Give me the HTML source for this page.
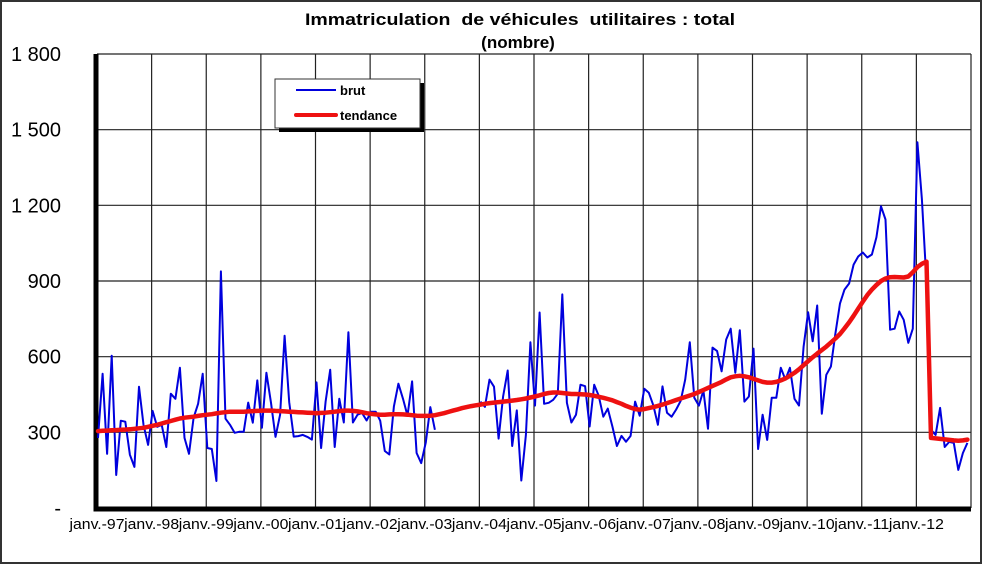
<!DOCTYPE html>
<html><head><meta charset="utf-8"><style>
html,body{margin:0;padding:0;background:#fff;}
svg{display:block;font-family:"Liberation Sans",Arial,sans-serif;}
</style></head><body>
<svg id="chart" width="982" height="564" viewBox="0 0 982 564">
<rect x="1" y="1" width="980" height="562" fill="#fff" stroke="#333" stroke-width="2"/>
<text x="520" y="25" text-anchor="middle" font-size="17" font-weight="bold" style="white-space:pre" textLength="430" lengthAdjust="spacingAndGlyphs">Immatriculation  de véhicules  utilitaires : total</text>
<text x="518" y="48" text-anchor="middle" font-size="17" font-weight="bold">(nombre)</text>
<g id="grid"></g>
<g id="yt"></g>
<g id="xt"></g>
<g id="series"></g>
<g>
<rect x="279" y="83" width="145" height="49" fill="#000"/>
<rect x="275" y="79" width="145" height="49" fill="#fff" stroke="#333" stroke-width="1"/>
<line x1="296" y1="90" x2="336" y2="90" stroke="#0000dd" stroke-width="2"/>
<text x="340" y="95" font-size="13" font-weight="bold">brut</text>
<line x1="296" y1="115" x2="336" y2="115" stroke="#ee1111" stroke-width="4" stroke-linecap="round"/>
<text x="340" y="120" font-size="13" font-weight="bold">tendance</text>
</g>
</svg>
<script>
const yTicks=[0,300,600,900,1200,1500,1800];
const yTickLabels=["-","300","600","900","1 200","1 500","1 800"];
const xYears=["97","98","99","00","01","02","03","04","05","06","07","08","09","10","11","12"];
const brut=[
278,532,215,604,131,346,342,211,163,481,330,250,
385,322,330,242,453,433,556,278,215,358,413,532,
238,234,107,938,354,330,298,302,302,418,338,506,
318,536,417,282,370,683,420,283,285,290,282,271,
498,238,422,548,242,433,339,697,339,370,377,347,
382,382,346,226,212,403,493,433,366,502,218,178,
260,400,310,null,null,null,null,null,null,null,null,null,
422,401,509,481,275,442,545,246,387,109,290,657,
406,775,413,417,429,453,847,417,339,370,489,483,
323,489,445,362,394,323,246,286,263,286,422,366,
473,457,406,330,482,378,362,390,425,509,657,437,
406,466,314,636,622,542,668,711,536,705,422,442,
632,234,370,270,437,437,556,509,556,433,406,640,
776,661,803,374,528,561,692,811,866,890,965,997,
1013,993,1005,1073,1196,1144,707,711,779,746,655,711,
1450,1224,894,310,290,397,242,262,258,151,218,258];
const tendance=[
305,306,307,308,309,310,311,312,314,316,318,322,
326,330,335,340,345,350,355,358,360,362,365,368,
370,372,375,378,380,382,382,382,382,383,384,385,
386,386,386,385,384,383,382,381,380,379,378,377,
376,377,378,380,382,384,386,386,385,383,380,376,
373,371,370,370,371,372,372,371,370,368,366,365,
365,366,368,372,376,381,386,391,396,400,404,407,
410,413,416,418,420,422,424,426,428,431,434,438,
442,447,452,456,458,458,456,454,452,452,451,450,
448,445,441,437,432,427,420,413,405,398,392,390,
392,396,400,405,410,416,422,428,434,440,446,452,
460,468,476,484,492,500,510,518,522,524,522,518,
512,506,500,497,497,500,506,514,524,536,550,566,
582,598,612,626,640,656,672,690,712,736,762,790,
818,844,866,884,900,910,915,916,915,914,918,935,
955,968,977,278,276,274,272,270,268,267,268,271];

const NS="http://www.w3.org/2000/svg";
const X0=97,X1=971,Y0=508,Y1=54,YMAX=1800;
const nMonths=xYears.length*12;
function xs(i){return X0+(X1-X0)*i/nMonths+1;}
function xg(i){return X0+(X1-X0)*i/nMonths;}
function ys(v){return Y0-(Y0-Y1)*v/YMAX;}
function mk(tag,attrs,parent){const e=document.createElementNS(NS,tag);for(const k in attrs)e.setAttribute(k,attrs[k]);parent.appendChild(e);return e;}
const grid=document.getElementById('grid'),yt=document.getElementById('yt'),xt=document.getElementById('xt'),ser=document.getElementById('series');
yTicks.forEach((v,k)=>{
  if(v>0){const l=mk('line',{x1:X0,x2:X1,y1:ys(v),y2:ys(v),stroke:'#222','stroke-width':1.2},grid);
  
  }
  const t=mk('text',{x:61,y:ys(v)+7,'text-anchor':'end','font-size':20},yt);
  t.textContent=yTickLabels[k];
  
  
});
for(let j=0;j<=xYears.length;j++){
  const x=xg(j*12);
  if(j>0){const l=mk('line',{x1:x,x2:x,y1:Y1,y2:Y0,stroke:'#222','stroke-width':1.2},grid);
  
  }
  if(j<xYears.length){const t=mk('text',{x:x,y:529,'text-anchor':'middle','font-size':14.5,textLength:55,lengthAdjust:'spacingAndGlyphs'},xt);
  t.textContent='janv.-'+xYears[j];
  
  }
}
const ax=mk('path',{d:`M${X0-1},${Y1} V${Y0+1} H${X1}`,fill:'none',stroke:'#000','stroke-width':5},grid);


let d='',pen=false;
brut.forEach((v,i)=>{if(v==null){pen=false;return;}d+=(pen?'L':'M')+xs(i).toFixed(1)+','+ys(v).toFixed(1)+' ';pen=true;});
const pb=mk('path',{d:d,fill:'none',stroke:'#0000dd','stroke-width':2,'stroke-linejoin':'round'},ser);


let d2='';
tendance.forEach((v,i)=>{d2+=(i?'L':'M')+xs(i).toFixed(1)+','+ys(v).toFixed(1)+' ';});
const pt=mk('path',{d:d2,fill:'none',stroke:'#ee1111','stroke-width':4.5,'stroke-linejoin':'round','stroke-linecap':'round'},ser);


</script>
</body></html>
